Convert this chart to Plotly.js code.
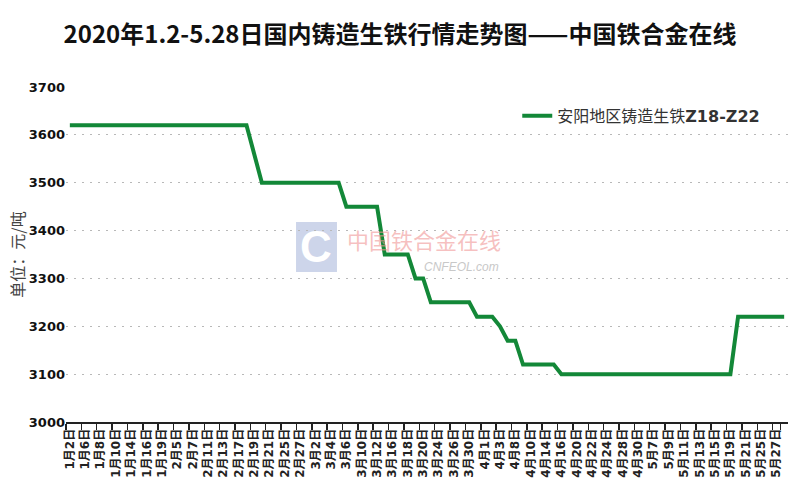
<!DOCTYPE html>
<html><head><meta charset="utf-8">
<script src="https://cdn.plot.ly/plotly-3.0.1.min.js"></script>
<style>html,body{margin:0;padding:0;background:#fff}#chart{width:800px;height:500px}</style>
</head><body><div id="chart"></div>
<script>
const dates = [
 '1月2日','1月3日','1月6日','1月7日','1月8日','1月9日','1月10日','1月13日','1月14日','1月15日',
 '1月16日','1月17日','1月19日','1月20日','2月5日','2月6日','2月7日','2月10日','2月11日','2月12日',
 '2月13日','2月14日','2月17日','2月18日','2月19日','2月20日','2月21日','2月24日','2月25日','2月26日',
 '2月27日','2月28日','3月2日','3月3日','3月4日','3月5日','3月6日','3月9日','3月10日','3月11日',
 '3月12日','3月13日','3月16日','3月17日','3月18日','3月19日','3月20日','3月23日','3月24日','3月25日',
 '3月26日','3月27日','3月30日','3月31日','4月1日','4月2日','4月3日','4月7日','4月8日','4月9日',
 '4月10日','4月13日','4月14日','4月15日','4月16日','4月17日','4月20日','4月21日','4月22日','4月23日',
 '4月24日','4月27日','4月28日','4月29日','4月30日','5月6日','5月7日','5月8日','5月9日','5月10日',
 '5月11日','5月12日','5月13日','5月14日','5月15日','5月18日','5月19日','5月20日','5月21日','5月22日',
 '5月25日','5月26日','5月27日','5月28日'
];
const prices = [
 3620,3620,3620,3620,3620,3620,3620,3620,3620,3620,
 3620,3620,3620,3620,3620,3620,3620,3620,3620,3620,
 3620,3620,3620,3620,3560,3500,3500,3500,3500,3500,
 3500,3500,3500,3500,3500,3500,3450,3450,3450,3450,
 3450,3350,3350,3350,3350,3300,3300,3250,3250,3250,
 3250,3250,3250,3220,3220,3220,3200,3170,3170,3120,
 3120,3120,3120,3120,3100,3100,3100,3100,3100,3100,
 3100,3100,3100,3100,3100,3100,3100,3100,3100,3100,
 3100,3100,3100,3100,3100,3100,3100,3220,3220,3220,
 3220,3220,3220,3220
];
const seriesName = '安阳地区铸造生铁<b>Z18-Z22</b>';
const yTicks = [3000,3100,3200,3300,3400,3500,3600,3700];
const titleText = '<b>2020年1.2-5.28日国内铸造生铁行情走势图——中国铁合金在线</b>';
const yTitle = '单位：元/吨';

const tickDates = dates.filter((d,i)=>i%2===0);

const trace = {
  type:'scatter', mode:'lines', x:dates, y:prices, name:seriesName,
  line:{color:'#138838', width:4, shape:'linear'}
};

const layout = {
  width:800, height:500,
  margin:{l:66, r:12, t:87, b:78},
  paper_bgcolor:'#fff', plot_bgcolor:'#fff',
  title:{text:titleText, x:0.5, xref:'container', xanchor:'center', y:0.93, yref:'container', yanchor:'middle',
    font:{family:'Noto Sans CJK SC, Liberation Sans', size:24, color:'#111'}},
  showlegend:true,
  legend:{x:0.625, y:0.965, xanchor:'left', yanchor:'top', bgcolor:'rgba(255,255,255,0)',
    font:{family:'DejaVu Sans, Noto Sans CJK SC', size:16, color:'#333'}},
  xaxis:{type:'category', range:[-0.5, 93.5], tickmode:'array', tickvals:tickDates, ticktext:tickDates,
    tickangle:-90, ticks:'outside', ticklen:6, tickcolor:'#222', tickwidth:1.5, tickson:'boundaries',
    showline:true, linecolor:'#222', linewidth:2, showgrid:false, zeroline:false, fixedrange:true,
    tickfont:{family:'DejaVu Sans, Noto Sans CJK SC', size:12, color:'#222', weight:'bold'}},
  yaxis:{range:[3000,3700], tickmode:'array', tickvals:yTicks, ticks:'', showline:false, zeroline:false,
    showgrid:true, gridcolor:'#b8b8b8', gridwidth:1, griddash:'2px,6px',
    tickfont:{family:'DejaVu Sans', size:13, color:'#111', weight:'bold'},
    title:{text:yTitle, standoff:0, font:{family:'Noto Sans CJK SC', size:16, color:'#444'}}},
  shapes:[
    {type:'rect', xref:'paper', yref:'paper', x0:0.3186, x1:0.3753, y0:0.4478, y1:0.597,
     fillcolor:'#cdd5ea', line:{width:0}, layer:'below'}
  ],
  annotations:[
    {xref:'paper', yref:'paper', x:0.3463, y:0.5224, text:'<b>C</b>', showarrow:false,
     font:{family:'Liberation Sans', size:44, color:'#ffffff'}},
    {xref:'paper', yref:'paper', x:0.496, y:0.545, text:'中国铁合金在线', showarrow:false,
     font:{family:'Noto Sans CJK SC', size:22, color:'rgba(240,150,150,0.6)'}},
    {xref:'paper', yref:'paper', x:0.548, y:0.4627, text:'<i>CNFEOL.com</i>', showarrow:false,
     font:{family:'Liberation Sans', size:12, color:'#c8c8c8'}}
  ]
};

Plotly.newPlot('chart', [trace], layout, {displayModeBar:false, staticPlot:true});
</script>
</body></html>
